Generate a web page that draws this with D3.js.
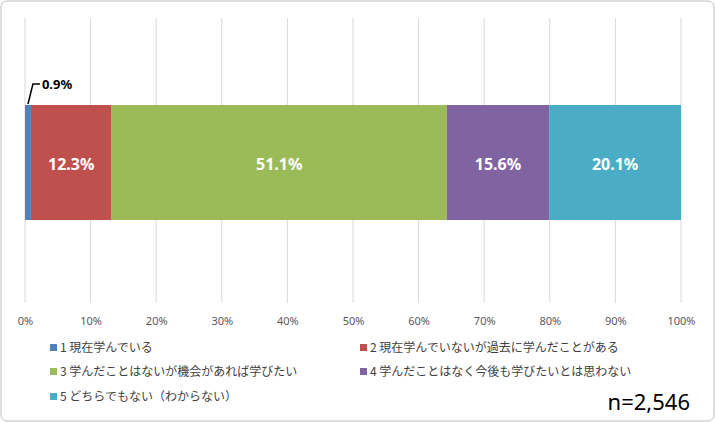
<!DOCTYPE html>
<html><head><meta charset="utf-8">
<script src="https://cdn.jsdelivr.net/npm/d3@7"></script>
<style>body{margin:0;background:#fff;font-family:"Noto Sans CJK JP","Noto Sans",sans-serif}</style>
</head><body><svg id="c" width="715" height="422"></svg>
<script>
const categories=["1 現在学んでいる","2 現在学んでいないが過去に学んだことがある","3 学んだことはないが機会があれば学びたい","4 学んだことはなく今後も学びたいとは思わない","5 どちらでもない（わからない）"];
const values=[0.9,12.3,51.1,15.6,20.1];
const colors=["#4F81BD","#C0504D","#9BBB59","#8064A2","#4BACC6"];
const ticks=[0,10,20,30,40,50,60,70,80,90,100];
const svg=d3.select("#c");
svg.append("rect").attr("x",1).attr("y",1).attr("width",713).attr("height",420).attr("rx",6).attr("fill","#fff").attr("stroke","#bfbfbf");
const x=d3.scaleLinear().domain([0,100]).range([25,681]);
svg.append("g").selectAll("line").data(ticks).join("line").attr("x1",d=>x(d)).attr("x2",d=>x(d)).attr("y1",18).attr("y2",303).attr("stroke","#d9d9d9");
svg.append("g").attr("transform","translate(0,303)").call(d3.axisBottom(x).tickValues(ticks).tickFormat(d=>d+"%").tickSize(0).tickPadding(14))
 .call(g=>{g.select(".domain").remove();g.selectAll("text").attr("font-size",11).attr("fill","#595959").attr("font-family","Noto Sans");});
let cum=0;const segs=values.map((v,i)=>{const s={v,i,x0:cum};cum+=v;return s;});
svg.append("g").selectAll("rect").data(segs).join("rect").attr("x",d=>x(d.x0)).attr("width",d=>x(d.x0+d.v)-x(d.x0)).attr("y",105).attr("height",115).attr("fill",d=>colors[d.i]);
svg.append("g").selectAll("text").data(segs.filter(d=>d.i>0)).join("text").attr("x",d=>x(d.x0+d.v/2)).attr("y",170).attr("text-anchor","middle").attr("fill","#fff").attr("font-size",16).attr("font-weight","bold").attr("font-family","Noto Sans").text(d=>d.v.toFixed(1)+"%");
svg.append("path").attr("d",`M${x(0.45)},104 L${x(0.45)+5},84 L${x(0.45)+12},84`).attr("fill","none").attr("stroke","#000").attr("stroke-width",1.5);
svg.append("text").attr("x",x(0.45)+14).attr("y",89).attr("font-size",13).attr("font-weight","bold").attr("font-family","Noto Sans").text(values[0].toFixed(1)+"%");
const lp=[[50,352],[360,352],[50,376],[360,376],[50,401]];
const lg=svg.append("g").selectAll("g").data(categories).join("g").attr("transform",(d,i)=>`translate(${lp[i][0]},${lp[i][1]})`);
lg.append("rect").attr("x",0).attr("y",-8).attr("width",7).attr("height",7).attr("fill",(d,i)=>colors[i]);
lg.append("text").attr("x",10).attr("y",0).attr("font-size",12).attr("fill","#404040").text(d=>d);
svg.append("text").attr("x",690).attr("y",410).attr("text-anchor","end").attr("font-size",22).attr("font-family","Noto Sans").text("n=2,546");
</script></body></html>
